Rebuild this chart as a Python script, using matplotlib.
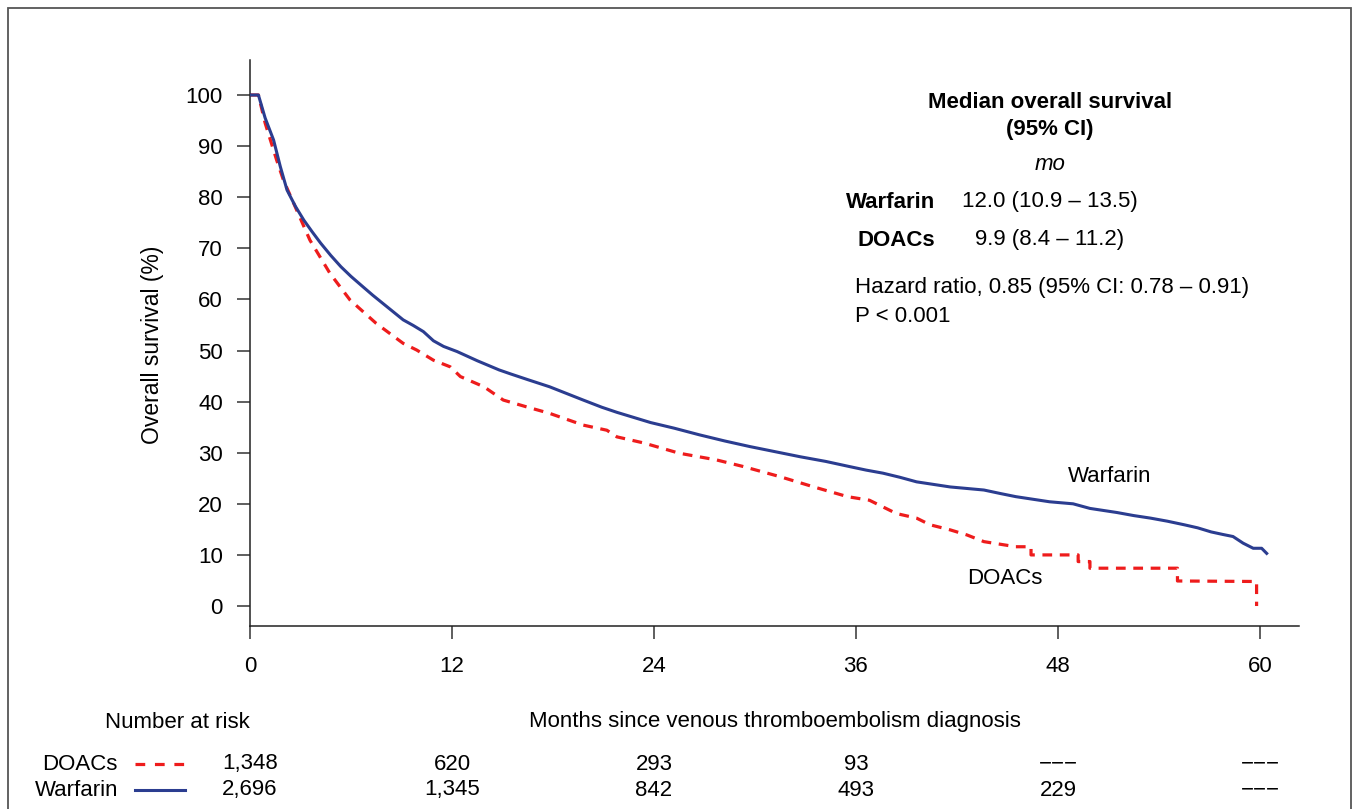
import numpy as np
import matplotlib.pyplot as plt
from matplotlib.lines import Line2D
from matplotlib.patches import Rectangle
from matplotlib.transforms import blended_transform_factory

plt.rcParams['font.family'] = ['Liberation Sans', 'DejaVu Sans']
plt.rcParams['lines.scale_dashes'] = False

# Dane (miesiące, przeżycie %)
warf_t = [0, 0.5, 0.9, 1.4, 1.8, 2.2, 2.7, 3.2, 3.7, 4.2, 4.8, 5.4, 6.0, 6.7,
          7.3, 7.9, 8.5, 9.1, 9.7, 10.3, 10.9, 11.5, 12.3, 13.5, 14.8, 15.5,
          16.5, 17.8, 18.8, 19.8, 20.9, 21.8, 22.8, 23.8, 25.2, 26.7, 28.2,
          29.7, 31.2, 32.7, 34.2, 35.6, 36.6, 37.6, 38.6, 39.6, 40.6, 41.6,
          42.6, 43.6, 44.6, 45.5, 46.5, 47.5, 48.9, 49.9, 50.7, 51.5, 52.5,
          53.5, 54.5, 55.5, 56.3, 57.1, 57.8, 58.4, 59.0, 59.6, 60.1, 60.4]
warf_s = [100, 100, 95.5, 91.2, 86.0, 81.4, 78.2, 75.5, 73.2, 71.0, 68.6,
          66.4, 64.5, 62.5, 60.8, 59.2, 57.6, 56.0, 54.9, 53.7, 51.9, 50.8,
          49.8, 48.0, 46.2, 45.4, 44.3, 42.9, 41.6, 40.3, 38.9, 37.9, 36.9,
          35.9, 34.8, 33.5, 32.3, 31.2, 30.2, 29.2, 28.3, 27.3, 26.6, 26.0,
          25.2, 24.3, 23.8, 23.3, 23.0, 22.7, 22.0, 21.4, 20.9, 20.4, 20.0,
          19.1, 18.7, 18.3, 17.7, 17.2, 16.6, 15.9, 15.3, 14.5, 14.0, 13.6,
          12.3, 11.3, 11.3, 10.3]

doac_t = [0, 0.5, 0.9, 1.58, 1.98, 2.77, 3.56, 4.75, 5.94, 7.5, 9.1, 9.9,
          10.9, 11.9, 12.5, 13.9, 15.05, 16.4, 17.8, 19.8, 21.2, 21.8, 23.4,
          25.5, 27.7, 29.3, 31.5, 33.5, 35.5, 36.8, 37.6, 38.4, 39.6, 40.4,
          41.6, 42.6, 43.6, 45.5, 46.4, 46.4, 49.2, 49.2, 49.9, 49.9, 55.1,
          55.1, 59.8, 59.8]
doac_s = [100, 100, 94.5, 87.3, 83.4, 77.5, 71.6, 65.1, 59.9, 55.3, 51.4,
          50.1, 48.1, 46.8, 44.9, 42.9, 40.3, 39.0, 37.7, 35.4, 34.4, 33.1,
          31.9, 29.9, 28.6, 27.3, 25.3, 23.3, 21.4, 20.7, 19.4, 18.1, 17.2,
          15.9, 14.9, 13.9, 12.6, 11.6, 11.6, 10.0, 10.0, 8.7, 8.7, 7.4, 7.4,
          4.9, 4.8, 0]

risk_times = [0, 12, 24, 36, 48, 60]
brak = '\u2212\u2212\u2212'
risk_doac = ['1,348', '620', '293', '93', brak, brak]
risk_warf = ['2,696', '1,345', '842', '493', '229', brak]

blue = '#2b3d90'
red = '#ee1c1c'
W, H = 1354, 809
fs = 16


def fx(x):
    return x / W


def fy(y):
    return 1 - y / H


fig = plt.figure(figsize=(W / 100, H / 100), dpi=100)
ax = fig.add_axes([fx(250), fy(626), fx(1299) - fx(250), fy(60) - fy(626)])

ax.plot(warf_t, warf_s, color=blue, lw=2.2, zorder=3)
ax.plot(doac_t, doac_s, color=red, lw=2.3, dashes=(7, 5.5), zorder=2)

ax.set_xlim(0, 62.32)
ax.set_ylim(-3.91, 106.85)
ax.set_xticks(risk_times)
ax.set_yticks(range(0, 101, 10))
for s in ['top', 'right']:
    ax.spines[s].set_visible(False)
for s in ['left', 'bottom']:
    ax.spines[s].set_linewidth(1.1)
    ax.spines[s].set_color('#222222')
ax.tick_params(axis='both', length=9.5, width=1.1, color='#333333',
               labelsize=fs)
ax.tick_params(axis='x', pad=12)
ax.tick_params(axis='y', pad=10)

ax.text(51.1, 25.4, 'Warfarin', fontsize=fs, ha='center', va='center')
ax.text(44.85, 5.3, 'DOACs', fontsize=fs, ha='center', va='center')

fig.text(fx(152), fy(345), 'Overall survival (%)', rotation=90,
         fontsize=16.5, ha='center', va='center')

# Ramka opisowa
fig.text(fx(1050), fy(102), 'Median overall survival', fontsize=fs,
         fontweight='bold', ha='center', va='center')
fig.text(fx(1050), fy(130), '(95% CI)', fontsize=fs, fontweight='bold',
         ha='center', va='center')
fig.text(fx(1050), fy(165), 'mo', fontsize=fs, style='italic',
         ha='center', va='center')
fig.text(fx(935), fy(202), 'Warfarin', fontsize=fs, fontweight='bold',
         ha='right', va='center')
fig.text(fx(1050), fy(202), '12.0 (10.9 – 13.5)', fontsize=fs,
         ha='center', va='center')
fig.text(fx(935), fy(240), 'DOACs', fontsize=fs, fontweight='bold',
         ha='right', va='center')
fig.text(fx(1050), fy(240), '9.9 (8.4 – 11.2)', fontsize=fs,
         ha='center', va='center')
fig.text(fx(855), fy(288), 'Hazard ratio, 0.85 (95% CI: 0.78 – 0.91)',
         fontsize=fs, ha='left', va='center')
fig.text(fx(855), fy(317), 'P < 0.001', fontsize=fs, ha='left', va='center')

# Tabela liczby chorych w ryzyku
fig.text(fx(177), fy(722), 'Number at risk', fontsize=fs,
         ha='center', va='center')
fig.text(fx(774.5), fy(722), 'Months since venous thromboembolism diagnosis',
         fontsize=fs, ha='center', va='center')

row_y = [764, 790]
fig.text(fx(118), fy(row_y[0]), 'DOACs', fontsize=fs, ha='right', va='center')
fig.text(fx(118), fy(row_y[1]), 'Warfarin', fontsize=fs, ha='right',
         va='center')
fig.add_artist(Line2D([fx(135), fx(185)], [fy(row_y[0])] * 2, color=red,
                      lw=2.3, dashes=(7, 7), transform=fig.transFigure))
fig.add_artist(Line2D([fx(135), fx(185)], [fy(row_y[1])] * 2, color=blue,
                      lw=2.2, transform=fig.transFigure))

trans = blended_transform_factory(ax.transData, fig.transFigure)
for t, d, w in zip(risk_times, risk_doac, risk_warf):
    ax.text(t, fy(row_y[0]), d, fontsize=fs, ha='center', va='center',
            transform=trans, clip_on=False)
    ax.text(t, fy(row_y[1]), w, fontsize=fs, ha='center', va='center',
            transform=trans, clip_on=False)

fig.add_artist(Rectangle((fx(8), fy(840)), fx(1351) - fx(8), fy(8) - fy(840),
                         fill=False, edgecolor='#555555', lw=1.3,
                         transform=fig.transFigure))

plt.savefig('out.png', dpi=100)
